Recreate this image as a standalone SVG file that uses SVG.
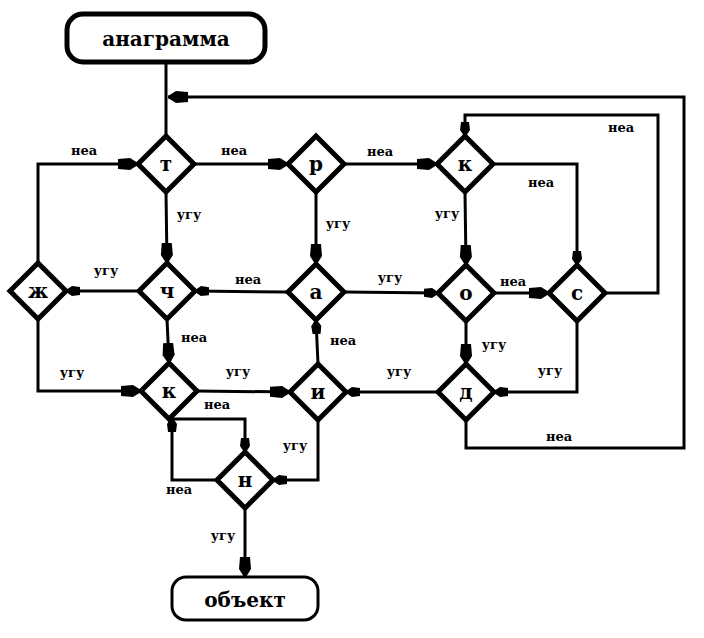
<svg xmlns="http://www.w3.org/2000/svg" width="704" height="638" viewBox="0 0 704 638">
<style>
.bg{fill:#fff}
.term{fill:#fff;stroke:#000}
.dia{fill:#fff;stroke:#000;stroke-width:5;stroke-linejoin:miter}
.c{fill:none;stroke:#000;stroke-width:3;stroke-linejoin:miter}
.ttl{font-family:"DejaVu Serif","Liberation Serif",serif;font-weight:bold;font-size:20px;text-anchor:middle;fill:#000}
.nl{font-family:"DejaVu Serif","Liberation Serif",serif;font-weight:bold;font-size:20px;text-anchor:middle;fill:#000}
.lb{font-family:"DejaVu Serif","Liberation Serif",serif;font-weight:bold;font-size:13px;text-anchor:middle;fill:#000}
</style>
<defs>
<marker id="ar" markerUnits="userSpaceOnUse" viewBox="0 -7 20 14" markerWidth="20" markerHeight="14" refX="20" refY="0" orient="auto">
<path d="M0,-5 L12,-6 L20,-1 L20,1 L12,6 L0,5 Z" fill="#000"/>
</marker>
<marker id="ars" markerUnits="userSpaceOnUse" viewBox="0 -6 14 12" markerWidth="14" markerHeight="12" refX="14" refY="0" orient="auto">
<path d="M0,-4 L8,-5 L14,-1 L14,1 L8,5 L0,4 Z" fill="#000"/>
</marker>
</defs>
<rect class="bg" x="0" y="0" width="704" height="638"/>

<g id="connectors">
<line class="c" x1="166" y1="62" x2="166" y2="136"/>
<polyline class="c" points="466,420 466,448 684,448 684,97 168,97" marker-end="url(#ar)"/>
<line class="c" x1="194" y1="164" x2="288" y2="164" marker-end="url(#ar)"/>
<line class="c" x1="344" y1="164" x2="437" y2="164" marker-end="url(#ar)"/>
<polyline class="c" points="605,293 658,293 658,115 465,115 465,136" marker-end="url(#ars)"/>
<polyline class="c" points="493,164 577,164 577,265" marker-end="url(#ars)"/>
<line class="c" x1="465" y1="192" x2="466" y2="265" marker-end="url(#ar)"/>
<line class="c" x1="166" y1="192" x2="167" y2="263" marker-end="url(#ar)"/>
<line class="c" x1="316" y1="192" x2="316" y2="264" marker-end="url(#ar)"/>
<line class="c" x1="288" y1="292" x2="195" y2="291" marker-end="url(#ars)"/>
<line class="c" x1="344" y1="292" x2="438" y2="293" marker-end="url(#ars)"/>
<line class="c" x1="494" y1="293" x2="549" y2="293" marker-end="url(#ar)"/>
<line class="c" x1="139" y1="291" x2="66" y2="291" marker-end="url(#ars)"/>
<polyline class="c" points="38,263 38,164 138,164" marker-end="url(#ar)"/>
<polyline class="c" points="38,319 38,391 141,391" marker-end="url(#ar)"/>
<line class="c" x1="167" y1="319" x2="169" y2="363" marker-end="url(#ar)"/>
<line class="c" x1="197" y1="391" x2="290" y2="392" marker-end="url(#ar)"/>
<line class="c" x1="318" y1="364" x2="316" y2="320" marker-end="url(#ars)"/>
<line class="c" x1="438" y1="392" x2="346" y2="392" marker-end="url(#ars)"/>
<polyline class="c" points="577,321 577,392 494,392" marker-end="url(#ars)"/>
<line class="c" x1="466" y1="321" x2="466" y2="364" marker-end="url(#ar)"/>
<polyline class="c" points="318,420 318,480 273,480" marker-end="url(#ars)"/>
<polyline class="c" points="169,419 245,419 245,452" marker-end="url(#ars)"/>
<polyline class="c" points="217,480 172,480 172,418" marker-end="url(#ars)"/>
<line class="c" x1="245" y1="508" x2="245" y2="577" marker-end="url(#ar)"/>

<text class="lb" x="84" y="155">неа</text>
<text class="lb" x="234" y="155">неа</text>
<text class="lb" x="380" y="156">неа</text>
<text class="lb" x="621" y="132">неа</text>
<text class="lb" x="541" y="187">неа</text>
<text class="lb" x="447" y="218">угу</text>
<text class="lb" x="189" y="219">угу</text>
<text class="lb" x="338" y="228">угу</text>
<text class="lb" x="106" y="275">угу</text>
<text class="lb" x="248" y="284">неа</text>
<text class="lb" x="390" y="282">угу</text>
<text class="lb" x="513" y="286">неа</text>
<text class="lb" x="194" y="342">неа</text>
<text class="lb" x="343" y="345">неа</text>
<text class="lb" x="494" y="349">угу</text>
<text class="lb" x="72" y="377">угу</text>
<text class="lb" x="238" y="376">угу</text>
<text class="lb" x="399" y="376">угу</text>
<text class="lb" x="550" y="375">угу</text>
<text class="lb" x="217" y="409">неа</text>
<text class="lb" x="559" y="441">неа</text>
<text class="lb" x="295" y="450">угу</text>
<text class="lb" x="179" y="494">неа</text>
<text class="lb" x="223" y="540">угу</text>
</g>

<g id="n-start"><rect class="term" x="67" y="14" width="198" height="48" rx="16" stroke-width="5"/><text class="ttl" x="166" y="46">анаграмма</text></g>
<g id="n-t"><polygon class="dia" points="166,136 194,164 166,192 138,164"/><text class="nl" x="166" y="171">т</text></g>
<g id="n-r"><polygon class="dia" points="316,136 344,164 316,192 288,164"/><text class="nl" x="316" y="171" font-weight="normal" font-size="22">р</text></g>
<g id="n-k1"><polygon class="dia" points="465,136 493,164 465,192 437,164"/><text class="nl" x="465" y="171">к</text></g>
<g id="n-ch"><polygon class="dia" points="167,263 195,291 167,319 139,291"/><text class="nl" x="167" y="298">ч</text></g>
<g id="n-a"><polygon class="dia" points="316,264 344,292 316,320 288,292"/><text class="nl" x="316" y="299">а</text></g>
<g id="n-o"><polygon class="dia" points="466,265 494,293 466,321 438,293"/><text class="nl" x="466" y="300">о</text></g>
<g id="n-s"><polygon class="dia" points="577,265 605,293 577,321 549,293"/><text class="nl" x="577" y="300">с</text></g>
<g id="n-zh"><polygon class="dia" points="38,263 66,291 38,319 10,291"/><text class="nl" x="38" y="298">ж</text></g>
<g id="n-k2"><polygon class="dia" points="169,363 197,391 169,419 141,391"/><text class="nl" x="169" y="398">к</text></g>
<g id="n-i"><polygon class="dia" points="318,364 346,392 318,420 290,392"/><text class="nl" x="318" y="399">и</text></g>
<g id="n-d"><polygon class="dia" points="466,364 494,392 466,420 438,392"/><text class="nl" x="466" y="399">д</text></g>
<g id="n-n"><polygon class="dia" points="245,452 273,480 245,508 217,480"/><text class="nl" x="245" y="487">н</text></g>
<g id="n-end"><rect class="term" x="172" y="577" width="146" height="43" rx="14" stroke-width="3"/><text class="ttl" x="245" y="607">объект</text></g>
</svg>
